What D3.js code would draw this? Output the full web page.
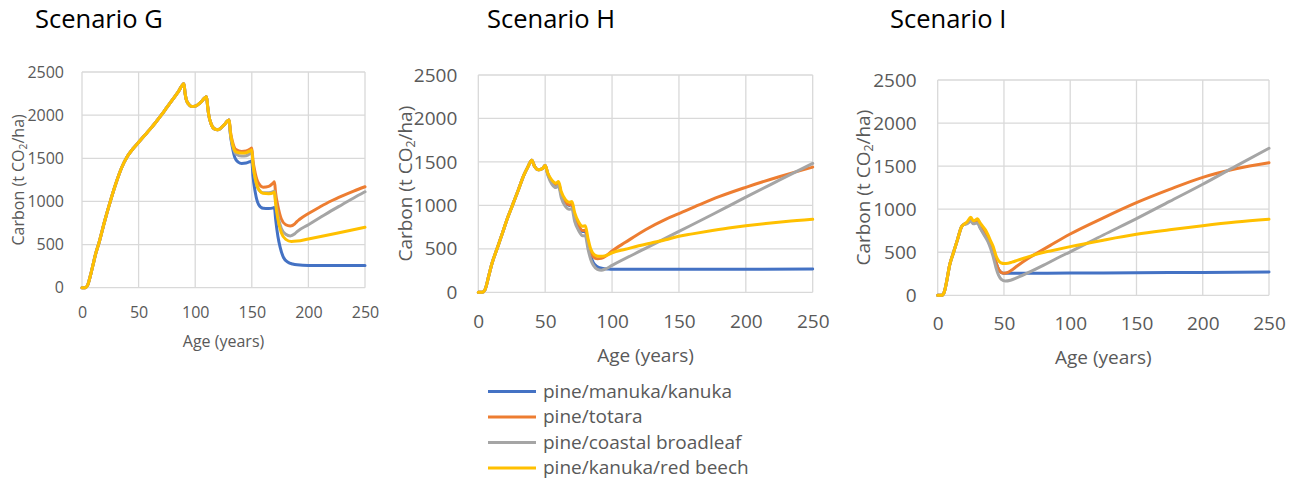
<!DOCTYPE html>
<html>
<head>
<meta charset="utf-8">
<script src="https://cdn.jsdelivr.net/npm/d3@7"></script>
<style>
  html, body { margin: 0; padding: 0; background: #fff; }
  svg { display: block; }
  text { font-family: "Open Sans", "Noto Sans", sans-serif; fill: #595959; }
</style>
</head>
<body>
<svg id="chart" width="1302" height="481"></svg>
<script>
// ---- Data: carbon stock (t CO2/ha) by stand age (years) ----
const seriesNames = ["pine/manuka/kanuka", "pine/totara", "pine/coastal broadleaf", "pine/kanuka/red beech"];
const seriesColors = ["#4472C4", "#ED7D31", "#A5A5A5", "#FFC000"];
const xTicks = [0, 50, 100, 150, 200, 250];
const yTicks = [0, 500, 1000, 1500, 2000, 2500];

// Scenario G: shared pine phase to age 130
const gShared = [[0,0],[3,0],[5,30],[8,170],[10,280],[12,390],[15,520],[20,770],[25,1000],[30,1210],[35,1390],[40,1520],[45,1610],[50,1685],[55,1760],[60,1835],[65,1915],[70,2000],[75,2090],[80,2180],[85,2270],[90,2365],[91,2260],[92,2185],[94,2130],[97,2100],[100,2105],[105,2150],[110,2213],[111,2100],[112,2000],[114,1900],[117,1840],[120,1830],[125,1880],[130,1945]];
const gManuka = [[131,1790],[133,1620],[135,1510],[138,1455],[141,1440],[145,1445],[149,1465],[150,1470],[151,1300],[153,1110],[156,965],[160,920],[165,918],[169,925],[170,930],[171,800],[173,600],[175,470],[178,350],[182,295],[186,275],[190,265],[200,258],[250,258]];
const gTotara = [[131,1820],[133,1690],[136,1600],[141,1580],[145,1585],[149,1610],[150,1620],[151,1480],[153,1330],[156,1210],[160,1165],[165,1175],[169,1215],[170,1228],[171,1100],[173,950],[176,800],[180,730],[184,715],[188,740],[190,768],[192,790],[200,860],[210,935],[220,1005],[230,1065],[240,1120],[250,1170]];
const gCoastal = [[131,1795],[133,1650],[136,1550],[141,1525],[145,1530],[149,1560],[150,1570],[151,1420],[153,1260],[156,1140],[160,1100],[165,1100],[169,1115],[170,1122],[171,1000],[173,840],[176,690],[180,620],[184,600],[188,625],[190,650],[200,730],[210,810],[220,890],[230,965],[240,1040],[250,1112]];
const gRedBeech = [[131,1810],[133,1665],[136,1575],[141,1560],[145,1565],[149,1590],[150,1598],[151,1440],[153,1270],[156,1140],[160,1095],[165,1090],[169,1100],[170,1110],[171,980],[173,800],[176,640],[180,560],[185,535],[190,540],[200,565],[225,630],[250,700]];

// Scenario H: shared pine phase to age 50
const hShared = [[0,0],[3,0],[5,30],[8,200],[10,320],[14,500],[18,680],[22,860],[26,1020],[30,1180],[34,1345],[37,1440],[40,1518],[42,1450],[45,1410],[48,1425],[50,1458]];
const hManuka = [[52,1360],[55,1265],[58,1230],[60,1250],[62,1125],[65,1035],[68,1000],[70,1010],[72,870],[75,760],[78,700],[80,700],[82,550],[84,420],[86,340],[89,295],[93,275],[97,268],[100,265],[150,265],[250,268]];
const hTotara = [[52,1360],[55,1270],[58,1235],[60,1255],[62,1130],[65,1040],[68,1005],[70,1015],[72,880],[75,770],[78,710],[80,715],[82,580],[84,470],[86,410],[89,385],[92,390],[96,425],[100,475],[110,575],[125,720],[140,840],[150,905],[165,1005],[180,1100],[200,1208],[225,1330],[250,1440]];
const hCoastal = [[52,1345],[55,1245],[58,1205],[60,1225],[62,1090],[65,990],[68,955],[70,960],[72,820],[75,710],[78,650],[80,650],[82,500],[84,380],[86,310],[89,265],[92,255],[95,268],[100,310],[125,505],[150,700],[175,895],[200,1095],[225,1290],[250,1484]];
const hRedBeech = [[52,1370],[55,1290],[58,1255],[60,1275],[62,1160],[65,1070],[68,1035],[70,1045],[72,920],[75,810],[78,760],[80,765],[82,620],[84,500],[87,430],[90,415],[93,415],[96,425],[100,455],[110,495],[120,535],[130,570],[140,605],[150,645],[160,672],[175,710],[190,745],[200,765],[215,792],[230,815],[250,840]];

// Scenario I: shared pine phase to age 20
const iShared = [[0,0],[3,0],[5,40],[7,180],[9,350],[12,500],[15,650],[18,795],[20,825]];
const iManuka = [[22,835],[25,870],[27,840],[30,850],[32,790],[35,715],[38,640],[40,570],[42,490],[44,380],[46,300],[48,265],[50,255],[60,255],[100,258],[150,262],[200,266],[250,270]];
const iTotara = [[22,840],[25,880],[27,850],[30,860],[32,800],[35,730],[38,650],[40,580],[42,500],[44,380],[46,300],[48,265],[50,255],[53,265],[56,295],[60,340],[65,395],[70,445],[75,490],[85,580],[100,712],[125,900],[150,1076],[175,1230],[200,1370],[225,1470],[250,1540]];
const iCoastal = [[22,830],[25,860],[27,830],[30,840],[32,780],[35,700],[38,620],[40,540],[42,440],[44,320],[46,230],[48,185],[51,165],[55,175],[60,205],[70,275],[80,350],[90,430],[100,505],[125,700],[150,890],[175,1090],[200,1290],[225,1500],[250,1707]];
const iRedBeech = [[22,850],[25,905],[27,865],[29,880],[30,890],[32,840],[34,800],[36,760],[38,700],[40,630],[42,560],[44,460],[46,400],[48,375],[50,370],[53,372],[56,385],[60,405],[65,430],[70,455],[75,480],[85,515],[100,565],[125,640],[150,708],[175,760],[200,808],[225,850],[250,883]];

const scenarioTitles = ["Scenario G", "Scenario H", "Scenario I"];
const scenarioSeries = [
  [gShared.concat(gManuka), gShared.concat(gTotara), gShared.concat(gCoastal), gShared.concat(gRedBeech)],
  [hShared.concat(hManuka), hShared.concat(hTotara), hShared.concat(hCoastal), hShared.concat(hRedBeech)],
  [iShared.concat(iManuka), iShared.concat(iTotara), iShared.concat(iCoastal), iShared.concat(iRedBeech)]
];

// ---- Layout of each panel ----
const panels = [
  { left: 82, right: 365, top: 72, bottom: 287.7, tickFont: 16, labelFont: 16,
    yTickGap: 18, xTickY: 318, xLabelY: 347, yLabelX: 18, titleX: 35, titleY: 28 },
  { left: 478.3, right: 812.7, top: 75, bottom: 292.3, tickFont: 19, labelFont: 19,
    yTickGap: 21, xTickY: 328, xLabelY: 362, yLabelX: 405, titleX: 487, titleY: 28 },
  { left: 937.7, right: 1269, top: 80, bottom: 295.3, tickFont: 19, labelFont: 19,
    yTickGap: 21, xTickY: 330, xLabelY: 364, yLabelX: 863, titleX: 890, titleY: 28 }
];

const svg = d3.select("#chart");
const fmt = d3.format("d");

panels.forEach((p, pi) => {
  const x = d3.scaleLinear().domain([0, 250]).range([p.left, p.right]);
  const y = d3.scaleLinear().domain([0, 2500]).range([p.bottom, p.top]);
  const g = svg.append("g");

  // title
  g.append("text").attr("x", p.titleX).attr("y", p.titleY)
    .attr("font-size", 25.5).style("fill", "#000")
    .text(scenarioTitles[pi]);

  // gridlines
  g.append("g").selectAll("line").data(yTicks).join("line")
    .attr("x1", p.left).attr("x2", p.right)
    .attr("y1", d => y(d)).attr("y2", d => y(d))
    .attr("stroke", "#D9D9D9").attr("stroke-width", 1.3);
  g.append("g").selectAll("line").data(xTicks).join("line")
    .attr("y1", p.top).attr("y2", p.bottom)
    .attr("x1", d => x(d)).attr("x2", d => x(d))
    .attr("stroke", "#D9D9D9").attr("stroke-width", 1.3);

  // axes (labels only; lines come from the grid)
  const yAxis = d3.axisLeft(y).tickValues(yTicks).tickFormat(fmt).tickSize(0).tickPadding(p.yTickGap);
  const ya = g.append("g").attr("transform", `translate(${p.left},0)`).call(yAxis);
  ya.select(".domain").remove();
  ya.selectAll("text").attr("font-size", p.tickFont).style("fill", "#595959");
  ya.attr("font-family", null);

  const xAxis = d3.axisBottom(x).tickValues(xTicks).tickFormat(fmt).tickSize(0);
  const xa = g.append("g").attr("transform", `translate(0,${p.bottom})`).call(xAxis);
  xa.select(".domain").remove();
  xa.attr("font-family", null);
  xa.selectAll("text").attr("font-size", p.tickFont)
    .attr("dy", null).attr("y", p.xTickY - p.bottom).style("fill", "#595959");

  // axis titles
  g.append("text").attr("x", (p.left + p.right) / 2).attr("y", p.xLabelY)
    .attr("text-anchor", "middle").attr("font-size", p.labelFont).text("Age (years)");
  const yl = g.append("text")
    .attr("transform", `translate(${p.yLabelX},${(p.top + p.bottom) / 2}) rotate(-90)`)
    .attr("text-anchor", "middle").attr("dy", "0.35em").attr("font-size", p.labelFont);
  yl.append("tspan").text("Carbon (t CO");
  yl.append("tspan").attr("font-size", p.labelFont * 0.65).attr("dy", "0.3em").text("2");
  yl.append("tspan").attr("dy", "-0.2em").text("/ha)");

  // series lines
  const line = d3.line().x(d => x(d[0])).y(d => y(d[1])).curve(d3.curveMonotoneX);
  scenarioSeries[pi].forEach((data, si) => {
    g.append("path").datum(data)
      .attr("d", line)
      .attr("fill", "none")
      .attr("stroke", seriesColors[si])
      .attr("stroke-width", 3)
      .attr("stroke-linejoin", "round")
      .attr("stroke-linecap", "round");
  });
});

// ---- Legend ----
const legend = svg.append("g").attr("transform", "translate(488,391.5)");
seriesNames.forEach((name, i) => {
  const row = legend.append("g").attr("transform", `translate(0,${i * 25.5})`);
  row.append("line").attr("x1", 0).attr("x2", 48).attr("y1", 0).attr("y2", 0)
    .attr("stroke", seriesColors[i]).attr("stroke-width", 3);
  row.append("text").attr("x", 55).attr("y", 0).attr("dy", "0.33em")
    .attr("font-size", 19).text(name);
});
</script>
</body>
</html>
